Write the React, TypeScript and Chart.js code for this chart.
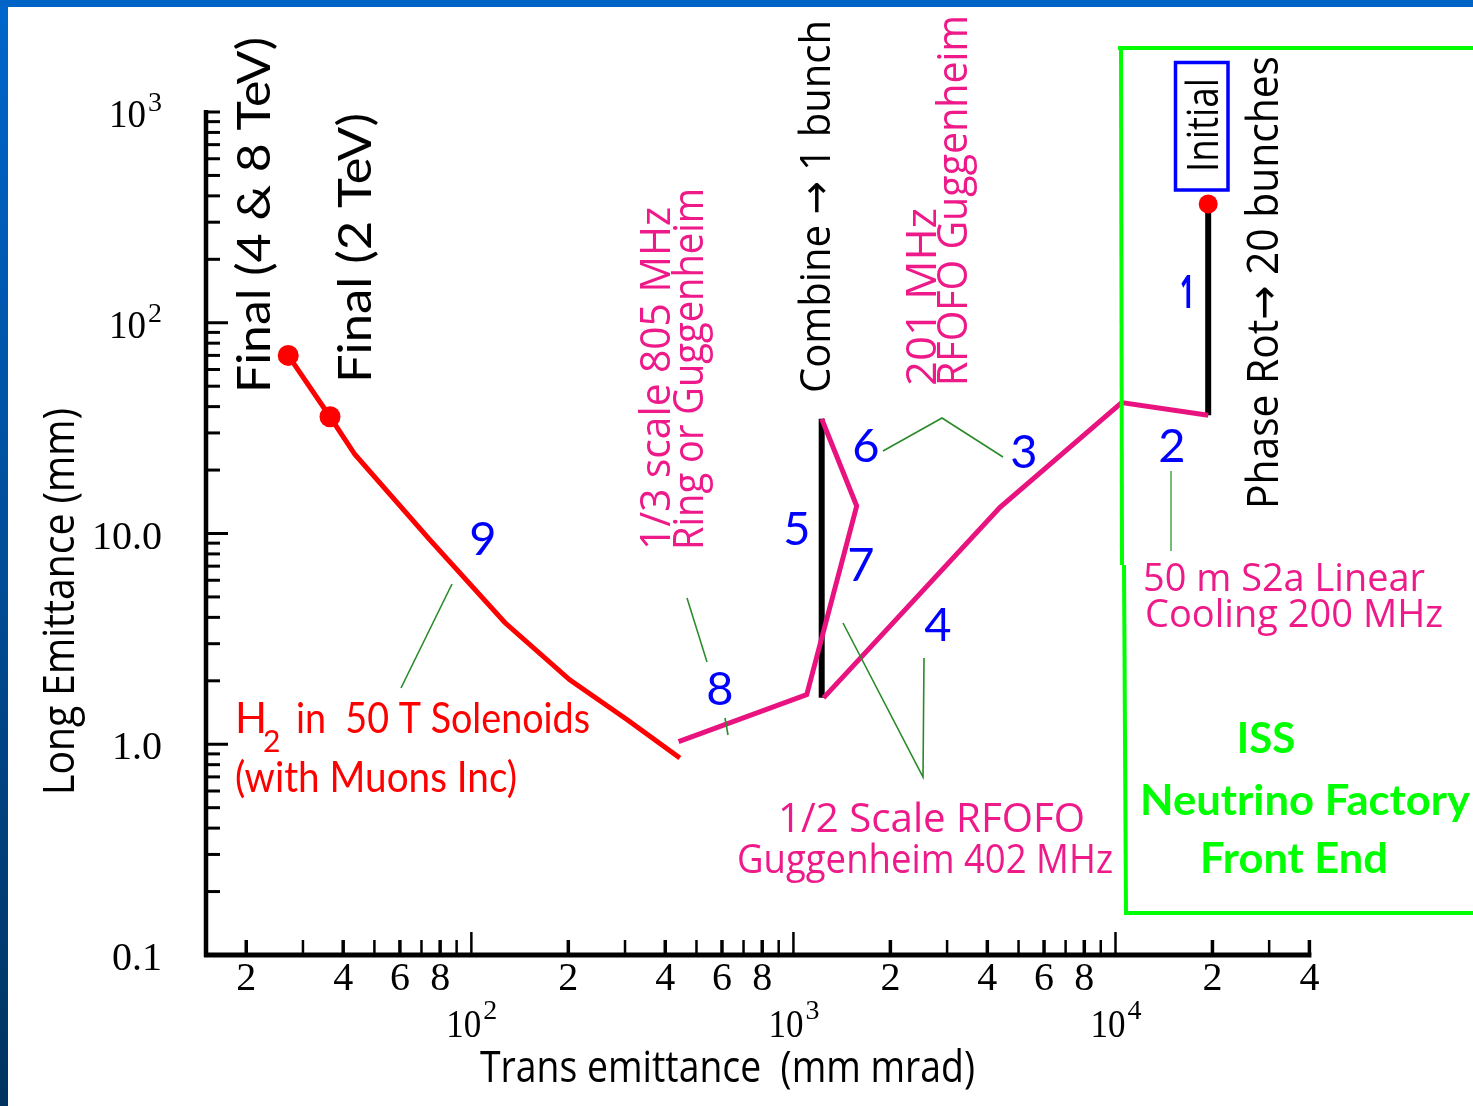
import React, { useEffect, useRef } from "react";
import { Chart, registerables } from "chart.js";
Chart.register(...registerables);

const W = 1473;
const H = 1106;

// ---- data (trans emittance mm·mrad, long emittance mm) ----
// Stage 9: H2 in 50 T solenoids (final points first)
const h2Trans = [27, 36.4, 43.5, 74, 127, 202, 304, 444];
const h2Long = [70, 35.8, 23.7, 9.4, 3.78, 2.02, 1.31, 0.86];
// Stages 8, 7, 6: 1/3 scale 805 MHz ring / Guggenheim
const ringTrans = [440, 1100, 1572, 1224];
const ringLong = [1.03, 1.72, 13.5, 35];
// Stage 5: combine -> 1 bunch
const combineTrans = [1224, 1224];
const combineLong = [1.66, 35];
// Stages 4, 3, 2: RFOFO Guggenheim and linear cooling
const rfofoTrans = [1240, 4380, 10450, 19400];
const rfofoLong = [1.66, 13.3, 41.8, 36.4];
// Stage 1: phase rotation
const phaseTrans = [19400, 19400];
const phaseLong = [36.4, 366];
// Initial point
const initialTrans = [19400];
const initialLong = [366];

// ---- axis ticks ----
const xMin = 15;
const xMax = 40000;
const yMin = 0.1;
const yMax = 1000;
const xMajorValues = [100, 1000, 10000];
const xMajorSup = ["2", "3", "4"];
const xMinorLabelled = [2, 4, 6, 8];
const yTickValues = [0.1, 1, 10, 100, 1000];
const yTickText = ["0.1", "1.0", "10.0", "10", "10"];
const yTickSup = ["", "", "", "2", "3"];

const RED = "#ff0000";
const MAG = "#e8137f";
const MAGT = "#ee1a8a";
const BLUE = "#0000ff";
const LIME = "#00ff00";
const DKGREEN = "#2a8a2a";

const GILL = "Lato, 'Open Sans', sans-serif";
const CMS = "'Open Sans', 'DejaVu Sans', sans-serif";
const SERIF = "'Liberation Serif', serif";

const zip = (xs: number[], ys: number[]) => xs.map((x, i) => ({ x, y: ys[i] }));

type TOpt = {
  size: number;
  family: string;
  color: string;
  weight?: string;
  align?: "left" | "center" | "right";
  rot?: boolean;
  w?: number;
};

function txt(ctx: CanvasRenderingContext2D, s: string, x: number, y: number, o: TOpt) {
  ctx.save();
  ctx.translate(x, y);
  if (o.rot) ctx.rotate(-Math.PI / 2);
  ctx.font = `${o.weight || "normal"} ${o.size}px ${o.family}`;
  ctx.fillStyle = o.color;
  ctx.textBaseline = "alphabetic";
  ctx.textAlign = "left";
  const m = ctx.measureText(s).width;
  const sx = o.w ? o.w / m : 1;
  const total = m * sx;
  let dx = 0;
  if (o.align === "center") dx = -total / 2;
  if (o.align === "right") dx = -total;
  ctx.translate(dx, 0);
  ctx.scale(sx, 1);
  ctx.fillText(s, 0, 0);
  ctx.restore();
}

function poly(ctx: CanvasRenderingContext2D, pts: number[][], color: string, lw: number) {
  ctx.save();
  ctx.strokeStyle = color;
  ctx.lineWidth = lw;
  ctx.lineCap = "butt";
  ctx.lineJoin = "miter";
  ctx.beginPath();
  pts.forEach((p, i) => (i ? ctx.lineTo(p[0], p[1]) : ctx.moveTo(p[0], p[1])));
  ctx.stroke();
  ctx.restore();
}

const deco = {
  id: "deco",
  beforeDraw(chart: any) {
    const ctx: CanvasRenderingContext2D = chart.ctx;
    ctx.save();
    const g = ctx.createLinearGradient(0, 0, 0, H);
    g.addColorStop(0, "#0066cc");
    g.addColorStop(0.5, "#004d99");
    g.addColorStop(1, "#00335f");
    ctx.fillStyle = g;
    ctx.fillRect(0, 0, W, H);
    ctx.fillStyle = "#0063c6";
    ctx.fillRect(0, 0, W, 7);
    ctx.fillStyle = "#ffffff";
    ctx.fillRect(8, 7, W - 8, H - 7);
    ctx.restore();
  },
  afterDatasetsDraw(chart: any) {
    const ctx: CanvasRenderingContext2D = chart.ctx;
    const xs = chart.scales.x;
    const ys = chart.scales.y;
    const a = chart.chartArea;
    const px = (v: number) => xs.getPixelForValue(v);
    const py = (v: number) => ys.getPixelForValue(v);

    // ---- axes ----
    ctx.save();
    ctx.strokeStyle = "#000";
    ctx.lineCap = "butt";
    // y ticks
    for (let e = -1; e <= 2; e++) {
      for (let m = 1; m <= 9; m++) {
        const v = m * Math.pow(10, e);
        if (v < yMin || v > yMax) continue;
        const y = py(v);
        ctx.lineWidth = 3;
        ctx.beginPath();
        ctx.moveTo(a.left, y);
        ctx.lineTo(a.left + (m === 1 ? 22 : 14), y);
        ctx.stroke();
      }
    }
    ctx.lineWidth = 3;
    ctx.beginPath();
    ctx.moveTo(a.left, py(yMax));
    ctx.lineTo(a.left + 14, py(yMax));
    ctx.stroke();
    // x ticks
    for (let e = 1; e <= 4; e++) {
      for (let m = 1; m <= 9; m++) {
        const v = m * Math.pow(10, e);
        if (v < xMin || v > xMax) continue;
        const x = px(v);
        const lab = xMinorLabelled.includes(m);
        ctx.lineWidth = lab ? 3.5 : 2.5;
        ctx.beginPath();
        ctx.moveTo(x, a.bottom);
        ctx.lineTo(x, a.bottom - (m === 1 ? 23 : 15));
        ctx.stroke();
        if (lab) {
          txt(ctx, String(m), x, 990, { size: 40, family: SERIF, color: "#000", align: "center" });
        }
      }
    }
    // axis lines
    ctx.lineWidth = 4.5;
    ctx.beginPath();
    ctx.moveTo(a.left, a.top - 2);
    ctx.lineTo(a.left, a.bottom + 2);
    ctx.stroke();
    ctx.lineWidth = 5;
    ctx.beginPath();
    ctx.moveTo(a.left - 2, a.bottom);
    ctx.lineTo(a.right + 2, a.bottom);
    ctx.stroke();
    ctx.restore();

    // x major labels 10^n
    xMajorValues.forEach((v, i) => {
      const x = px(v);
      txt(ctx, "10", x - 25, 1037, { size: 40, family: SERIF, color: "#000", w: 35 });
      txt(ctx, xMajorSup[i], x + 12, 1019, { size: 28, family: SERIF, color: "#000" });
    });
    // y labels
    yTickValues.forEach((v, i) => {
      const y = py(v) + 15;
      if (yTickSup[i]) {
        txt(ctx, yTickText[i], 146, y, { size: 40, family: SERIF, color: "#000", align: "right", w: 37 });
        txt(ctx, yTickSup[i], 148, y - 16, { size: 28, family: SERIF, color: "#000" });
      } else {
        txt(ctx, yTickText[i], 162, y, { size: 40, family: SERIF, color: "#000", align: "right" });
      }
    });

    // axis titles
    txt(ctx, "Trans emittance  (mm mrad)", 480, 1082, { size: 44, family: CMS, color: "#000", w: 495 });
    txt(ctx, "Long Emittance (mm)", 74, 795, { size: 44, family: CMS, color: "#000", rot: true, w: 387 });

    // ---- green box ----
    poly(ctx, [[1118, 48], [W, 48]], LIME, 4);
    poly(ctx, [[1121, 46], [1122, 565]], LIME, 4);
    poly(ctx, [[1124, 565], [1126, 914]], LIME, 4);
    poly(ctx, [[1124, 913], [W, 913]], LIME, 4);

    // ---- pointer lines ----
    poly(ctx, [[452, 584], [401, 688]], DKGREEN, 1.6);
    poly(ctx, [[687, 598], [707, 662]], DKGREEN, 1.6);
    poly(ctx, [[725, 718], [728, 735]], DKGREEN, 1.6);
    poly(ctx, [[883, 451], [942, 418], [1003, 457]], DKGREEN, 1.6);
    poly(ctx, [[843, 623], [923, 777], [924, 658]], DKGREEN, 1.6);
    poly(ctx, [[1171, 471], [1171, 551]], "#55aa55", 1.6);

    // ---- rotated labels ----
    txt(ctx, "Final (4 & 8 TeV)", 270, 393, { size: 46, family: GILL, color: "#000", rot: true, w: 356 });
    txt(ctx, "Final (2 TeV)", 371, 383, { size: 46, family: GILL, color: "#000", rot: true, w: 270 });
    txt(ctx, "1/3 scale 805 MHz", 670, 550, { size: 42, family: CMS, color: MAGT, rot: true, w: 343 });
    txt(ctx, "Ring or Guggenheim", 703, 550, { size: 42, family: CMS, color: MAGT, rot: true, w: 362 });
    txt(ctx, "Combine \u2192 1 bunch", 830, 393, { size: 42, family: CMS, color: "#000", rot: true, w: 373 });
    txt(ctx, "201 MHz", 936, 386, { size: 42, family: CMS, color: MAGT, rot: true, w: 178 });
    txt(ctx, "RFOFO Guggenheim", 967, 386, { size: 42, family: CMS, color: MAGT, rot: true, w: 371 });
    txt(ctx, "Initial", 1218, 172, { size: 44, family: CMS, color: "#000", rot: true, w: 94 });
    txt(ctx, "Phase Rot\u2192 20 bunches", 1278, 509, { size: 43, family: CMS, color: "#000", rot: true, w: 453 });
    ctx.save();
    ctx.strokeStyle = BLUE;
    ctx.lineWidth = 3.5;
    ctx.strokeRect(1175.5, 62.5, 52.5, 127.5);
    ctx.restore();

    // ---- horizontal labels ----
    txt(ctx, "H", 235, 733, { size: 42, family: GILL, color: RED });
    txt(ctx, "2", 263, 752, { size: 30, family: GILL, color: RED });
    txt(ctx, "in  50 T Solenoids", 296, 733, { size: 42, family: GILL, color: RED, w: 294 });
    txt(ctx, "(with Muons Inc)", 235, 792, { size: 42, family: GILL, color: RED, w: 282 });
    txt(ctx, "50 m S2a Linear", 1143, 591, { size: 38, family: CMS, color: MAGT, w: 282 });
    txt(ctx, "Cooling 200 MHz", 1145, 627, { size: 38, family: CMS, color: MAGT, w: 298 });
    txt(ctx, "1/2 Scale RFOFO", 778, 832, { size: 40, family: CMS, color: MAGT, w: 307 });
    txt(ctx, "Guggenheim 402 MHz", 737, 873, { size: 40, family: CMS, color: MAGT, w: 376 });
    txt(ctx, "ISS", 1266, 753, { size: 42, family: GILL, weight: "bold", color: LIME, align: "center" });
    txt(ctx, "Neutrino Factory", 1140, 815, { size: 42, family: GILL, weight: "bold", color: LIME, w: 330 });
    txt(ctx, "Front End", 1200, 873, { size: 42, family: GILL, weight: "bold", color: LIME, w: 188 });

    // ---- stage numbers ----
    const nums: [string, number, number][] = [
      ["9", 483, 555],
      ["8", 720, 705],
      ["5", 797, 545],
      ["6", 866, 462],
      ["7", 861, 581],
      ["3", 1024, 468],
      ["4", 938, 641],
      ["2", 1172, 462],
    ];
    nums.forEach(([s, x, y]) => txt(ctx, s, x, y, { size: 47, family: GILL, color: BLUE, align: "center" }));
    txt(ctx, "1", 1187, 308, { size: 46, family: "'Open Sans', sans-serif", weight: "bold", color: BLUE, align: "center", w: 14 });
  },
};

export default function App() {
  const ref = useRef<HTMLCanvasElement>(null);
  useEffect(() => {
    document.body.style.margin = "0";
    const chart = new Chart(ref.current as HTMLCanvasElement, {
      type: "scatter",
      data: {
        datasets: [
          {
            data: zip(initialTrans, initialLong),
            pointRadius: 9.5,
            pointBackgroundColor: RED,
            pointBorderWidth: 0,
            showLine: false,
            order: 0,
          },
          {
            data: zip(h2Trans, h2Long),
            borderColor: RED,
            borderWidth: 5,
            showLine: true,
            pointRadius: (c: any) => (c.dataIndex < 2 ? 10.5 : 0),
            pointBackgroundColor: RED,
            pointBorderWidth: 0,
            order: 1,
          },
          {
            data: zip(ringTrans, ringLong),
            borderColor: MAG,
            borderWidth: 5,
            showLine: true,
            pointRadius: 0,
            borderJoinStyle: "miter",
            order: 1,
          },
          {
            data: zip(rfofoTrans, rfofoLong),
            borderColor: MAG,
            borderWidth: 5,
            showLine: true,
            pointRadius: 0,
            borderJoinStyle: "miter",
            order: 1,
          },
          {
            data: zip(combineTrans, combineLong),
            borderColor: "#000",
            borderWidth: 6,
            showLine: true,
            pointRadius: 0,
            order: 2,
          },
          {
            data: zip(phaseTrans, phaseLong),
            borderColor: "#000",
            borderWidth: 6,
            showLine: true,
            pointRadius: 0,
            order: 2,
          },
        ] as any,
      },
      options: {
        responsive: false,
        animation: false,
        devicePixelRatio: 1,
        events: [],
        layout: { padding: { left: 206, top: 112, right: 163.6, bottom: 151 } },
        scales: {
          x: { type: "logarithmic", min: xMin, max: xMax, display: false, bounds: "data" },
          y: { type: "logarithmic", min: yMin, max: yMax, display: false, bounds: "data" },
        },
        plugins: { legend: { display: false }, tooltip: { enabled: false } },
      } as any,
      plugins: [deco],
    });
    return () => chart.destroy();
  }, []);
  return (
    <div style={{ position: "absolute", left: 0, top: 0, width: W, height: H }}>
      <canvas ref={ref} width={W} height={H} style={{ width: W, height: H, display: "block" }} />
    </div>
  );
}
